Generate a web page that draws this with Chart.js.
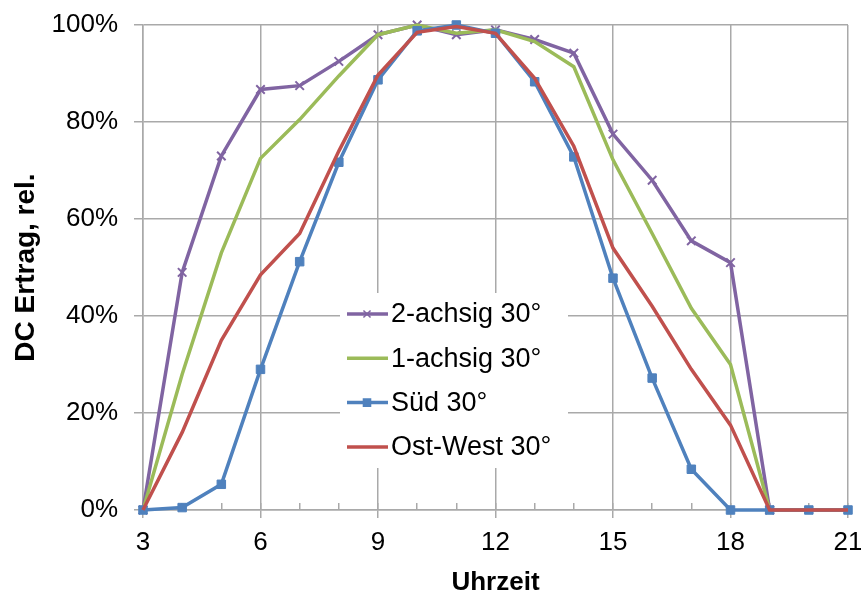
<!DOCTYPE html>
<html>
<head>
<meta charset="utf-8">
<script src="https://cdn.jsdelivr.net/npm/chart.js@4/dist/chart.umd.min.js"></script>
<style>
  body { margin: 0; background: #fff; }
  canvas { display: block; }
</style>
</head>
<body>
<canvas id="ertragChart" width="861" height="593"></canvas>
<script>
// Uhrzeit (hours) on the x axis
const hours = [3, 4, 5, 6, 7, 8, 9, 10, 11, 12, 13, 14, 15, 16, 17, 18, 19, 20, 21];

// relative DC yield in % for each system
const zweiAchsig = [0, 49, 73, 86.7, 87.5, 92.5, 98, 100, 98, 99, 97, 94.2, 77.5, 68, 55.5, 51, 0, null, null];
const einAchsig  = [0, 28, 53, 72.5, 80.5, 89.5, 98, 100, 98.3, 99, 96.6, 91.4, 72.2, 57, 41.6, 30, 0, 0, 0];
const sued       = [0, 0.5, 5.3, 29, 51.2, 71.7, 88.7, 98.8, 100, 98.3, 88.3, 72.8, 47.8, 27.2, 8.4, 0, 0, 0, 0];
const ostWest    = [0, 16, 35, 48.5, 57, 74, 89.7, 98.5, 99.7, 98.3, 89, 75, 54, 42, 29, 17.5, 0, 0, 0];

const seriesNames = ['2-achsig 30°', '1-achsig 30°', 'Süd 30°', 'Ost-West 30°'];

const yTicks = [0, 20, 40, 60, 80, 100];
const xLabelStep = 3;

const GRID = '#a9a9a9';
const FONT = "'Liberation Sans', Arial, sans-serif";

function toPoints(values) {
    return hours.map((h, i) => ({x: h, y: values[i]}));
}

// legend inside the plot, on a white box (like the Excel original)
const innerLegend = {
    id: 'innerLegend',
    beforeDatasetsDraw(chart) {
        const ctx = chart.ctx;
        const area = chart.chartArea;
        const x0 = area.left + 197;
        const y0 = area.top + 268;
        ctx.save();
        ctx.fillStyle = '#ffffff';
        ctx.fillRect(x0, y0, 228, 175);
        ctx.font = '27px ' + FONT;
        ctx.textBaseline = 'middle';
        ctx.textAlign = 'left';
        chart.data.datasets.forEach((ds, i) => {
            const rowY = y0 + 21 + i * 44.3;
            ctx.strokeStyle = ds.borderColor;
            ctx.lineWidth = 3.5;
            ctx.beginPath();
            ctx.moveTo(x0 + 7, rowY);
            ctx.lineTo(x0 + 48, rowY);
            ctx.stroke();
            if (ds.pointRadius > 0) {
                ctx.fillStyle = ds.pointBackgroundColor;
                ctx.strokeStyle = ds.borderColor;
                ctx.lineWidth = 1.5;
                Chart.helpers.drawPoint(ctx, {
                    pointStyle: ds.pointStyle, rotation: 0, radius: 5, borderWidth: 1.5
                }, x0 + 27, rowY);
            }
            ctx.fillStyle = '#000';
            ctx.fillText(ds.label, x0 + 51, rowY + 1);
        });
        ctx.restore();
    }
};

const ertragConfig = {
    type: 'line',
    data: {
        datasets: [
            {
                label: seriesNames[0],
                data: toPoints(zweiAchsig),
                borderColor: '#8064A2',
                pointBackgroundColor: '#8064A2',
                pointBorderColor: '#8064A2',
                pointStyle: 'crossRot',
                pointRadius: 6,
                pointBorderWidth: 2,
                borderWidth: 3.5,
                order: 3,
                clip: false
            },
            {
                label: seriesNames[1],
                data: toPoints(einAchsig),
                borderColor: '#9BBB59',
                pointRadius: 0,
                borderWidth: 3.5,
                order: 2,
                clip: false
            },
            {
                label: seriesNames[2],
                data: toPoints(sued),
                borderColor: '#4F81BD',
                pointBackgroundColor: '#4F81BD',
                pointBorderColor: '#4F81BD',
                pointStyle: 'rect',
                pointRadius: 6,
                pointBorderWidth: 1,
                borderWidth: 3.5,
                order: 1,
                clip: false
            },
            {
                label: seriesNames[3],
                data: toPoints(ostWest),
                borderColor: '#C0504D',
                pointRadius: 0,
                borderWidth: 3.5,
                order: 0,
                clip: false
            }
        ]
    },
    options: {
        responsive: false,
        animation: false,
        layout: { padding: { left: 0, right: 13, top: 25, bottom: 0 } },
        plugins: {
            legend: { display: false },
            tooltip: { enabled: false }
        },
        scales: {
            // inside minor tick marks at every hour
            xMinor: {
                type: 'linear',
                position: 'bottom',
                weight: -1,
                min: 3,
                max: 21,
                ticks: { stepSize: 1, display: false },
                grid: { drawOnChartArea: false, tickLength: -7, color: GRID, lineWidth: 1.5 },
                border: { display: false },
                afterFit: s => { s.height = 0; s.paddingLeft = 0; s.paddingRight = 0; }
            },
            x: {
                type: 'linear',
                position: 'bottom',
                min: 3,
                max: 21,
                ticks: {
                    stepSize: 1,
                    autoSkip: false,
                    maxRotation: 0,
                    color: '#000',
                    padding: 9,
                    font: { family: FONT, size: 26 },
                    callback: v => (v % xLabelStep === 0 ? v : '')
                },
                grid: {
                    color: c => (c.tick && c.tick.value % xLabelStep === 0 ? GRID : 'rgba(0,0,0,0)'),
                    lineWidth: 1.5,
                    tickLength: 8
                },
                border: { color: GRID, width: 1.5 },
                title: {
                    display: true,
                    text: 'Uhrzeit',
                    color: '#000',
                    padding: 0,
                    font: { family: FONT, size: 26, weight: 'bold', lineHeight: 0.75 }
                },
                afterFit: s => { s.height = 83; s.paddingLeft = 0; s.paddingRight = 0; }
            },
            y: {
                min: 0,
                max: 100,
                ticks: {
                    stepSize: 20,
                    color: '#000',
                    padding: 16,
                    font: { family: FONT, size: 26 },
                    callback: v => (yTicks.includes(v) ? v + '%' : '')
                },
                grid: { color: GRID, lineWidth: 1.5, tickLength: 9 },
                border: { color: GRID, width: 1.5 },
                title: {
                    display: true,
                    text: 'DC Ertrag, rel.',
                    color: '#000',
                    padding: { top: 9, bottom: 0 },
                    font: { family: FONT, size: 28, weight: 'bold' }
                },
                afterFit: s => { s.width = 143; s.paddingTop = 0; s.paddingBottom = 0; }
            }
        }
    },
    plugins: [innerLegend]
};

const ertragChart = new Chart(
    document.getElementById('ertragChart'),
    ertragConfig
);
</script>
</body>
</html>
